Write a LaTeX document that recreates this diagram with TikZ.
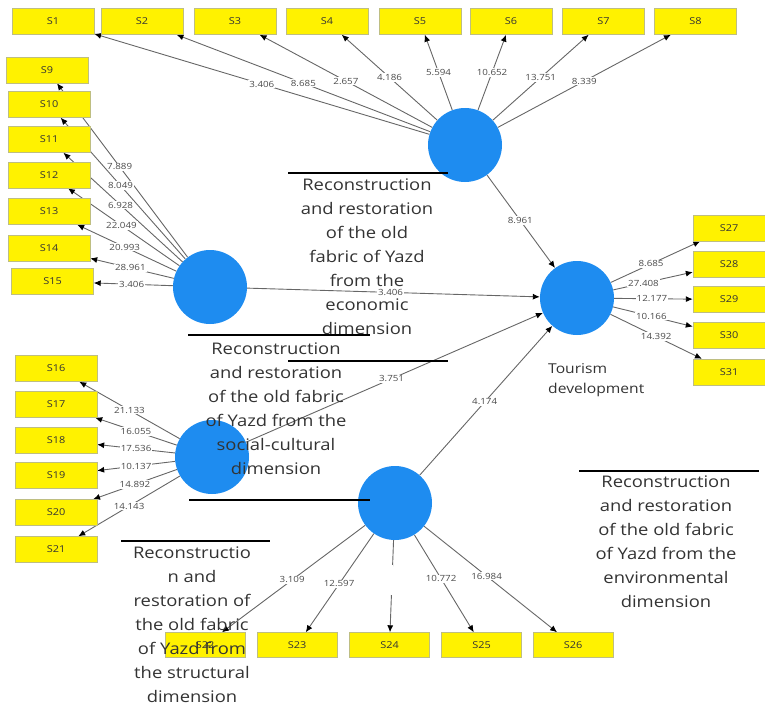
\documentclass[tikz,border=0pt]{standalone}
\usepackage{fontspec}
\setmainfont{Open Sans}[FakeStretch=1.15]
\usetikzlibrary{arrows.meta,backgrounds}
\definecolor{lvblue}{RGB}{30,140,240}
\definecolor{boxline}{RGB}{190,190,130}
\begin{document}
\begin{tikzpicture}
  [x=1pt,y=-1pt,
   box/.style={rectangle,fill=yellow,draw=boxline,minimum width=82pt,minimum height=26pt,
     inner sep=0pt,font=\fontsize{9.5}{11}\selectfont,text=black!80},
   lv/.style={circle,fill=lvblue,minimum size=74pt,inner sep=0pt},
   arr/.style={draw=black!60,line width=.9pt,-{Latex[length=7pt,width=6pt,color=black]}},
   lbl/.style={fill=white,inner sep=1pt,font=\fontsize{8.5}{10}\selectfont,text=black!70},
   rule/.style={draw=black,line width=1.2pt}]
  \tikzstyle{txt} = [align=center,inner sep=0pt,anchor=north,text=black!80,
     font=\fontsize{16}{24}\selectfont]
  \useasboundingbox (0,0) rectangle (765,706);
  % indicators
  \foreach \n/\x in {1/53,2/142,3/235,4/327,5/420,6/511,7/603.5,8/695.5}
    \node[box] (s\n) at (\x,21.5) {S\n};
  \node[box] (s9)  at (47,70)    {S9};
  \foreach \n/\y in {10/104.5,11/139.5,12/175,13/211.5,14/248.5}
    \node[box] (s\n) at (49,\y) {S\n};
  \node[box] (s15) at (52.5,281.5) {S15};
  \foreach \n/\y in {16/368.5,17/404.5,18/440,19/475.5,20/512.5,21/549.5}
    \node[box] (s\n) at (56,\y) {S\n};
  \foreach \n/\x in {22/205,23/297,24/389.5,25/481.5,26/573}
    \node[box,minimum width=80pt,minimum height=25pt] (s\n) at (\x,645) {S\n};
  \foreach \n/\y in {27/228,28/264,29/299.5,30/335.5,31/372}
    \node[box,minimum width=72pt] (s\n) at (729,\y) {S\n};
  % latent variables
  \node[lv] (econ) at (465,145) {};
  \node[lv] (envi) at (210,287) {};
  \node[lv] (soci) at (212,457) {};
  \node[lv] (stru) at (395,503) {};
  \node[lv] (tour) at (577,298) {};
  \begin{scope}[on background layer]
  \foreach \d/\val in {1/3.406,2/8.685,3/2.657,4/4.186,5/5.594,6/10.652,7/13.751,8/8.339}
    \draw[arr] (econ) -- node[lbl] {\val} (s\d);
  \foreach \d/\val in {9/7.889,10/8.049,11/6.928,12/22.049,13/20.993,14/28.961,15/3.406}
    \draw[arr] (envi) -- node[lbl,pos=.52] {\val} (s\d);
  \foreach \d/\val in {16/21.133,17/16.055,18/17.536,19/10.137,20/14.892,21/14.143}
    \draw[arr] (soci) -- node[lbl] {\val} (s\d);
  \foreach \d/\val/\p in {22/3.109/.51,23/12.597/.51,25/10.772/.45,26/16.984/.47}
    \draw[arr] (stru) -- node[lbl,pos=\p] {\val} (s\d);
  \draw[arr] (stru) -- node[lbl,pos=.43,minimum height=30pt] {} (s24);
  \foreach \d/\val/\p in {27/8.685/.45,28/27.408/.38,29/12.177/.48,30/10.166/.48,31/14.392/.5}
    \draw[arr] (tour) -- node[lbl,pos=\p] {\val} (s\d);
  \foreach \src/\val in {econ/8.961,envi/3.406,soci/3.751,stru/4.174}
    \draw[arr] (\src) -- node[lbl,pos=.49] {\val} (tour);
  \end{scope}
  % text boxes
  \draw[rule] (288,173) -- (448,173);
  \draw[rule] (188,335) -- (370,335);
  \draw[rule] (288,361) -- (448,361);
  \draw[rule] (189,500) -- (370,500);
  \draw[rule] (121,541) -- (270,541);
  \draw[rule] (579,471) -- (759,471);
  \node[txt] (teco) at (367,179) {Reconstruction\\and restoration\\of the old\\fabric of Yazd\\from the\\economic\\dimension};
  \node[txt] (tsoc) at (276,343) {Reconstruction\\and restoration\\of the old fabric\\of Yazd from the\\social-cultural\\dimension};
  \node[txt] (tstr) at (192,547) {Reconstructio\\n and\\restoration of\\the old fabric\\of Yazd from\\the structural\\dimension};
  \node[txt] (tenv) at (666,476) {Reconstruction\\and restoration\\of the old fabric\\of Yazd from the\\environmental\\dimension};
  \node[txt,anchor=north west,align=left,font=\fontsize{13.6}{20}\selectfont] (ttour) at (548,363) {Tourism\\development};
\end{tikzpicture}
\end{document}
